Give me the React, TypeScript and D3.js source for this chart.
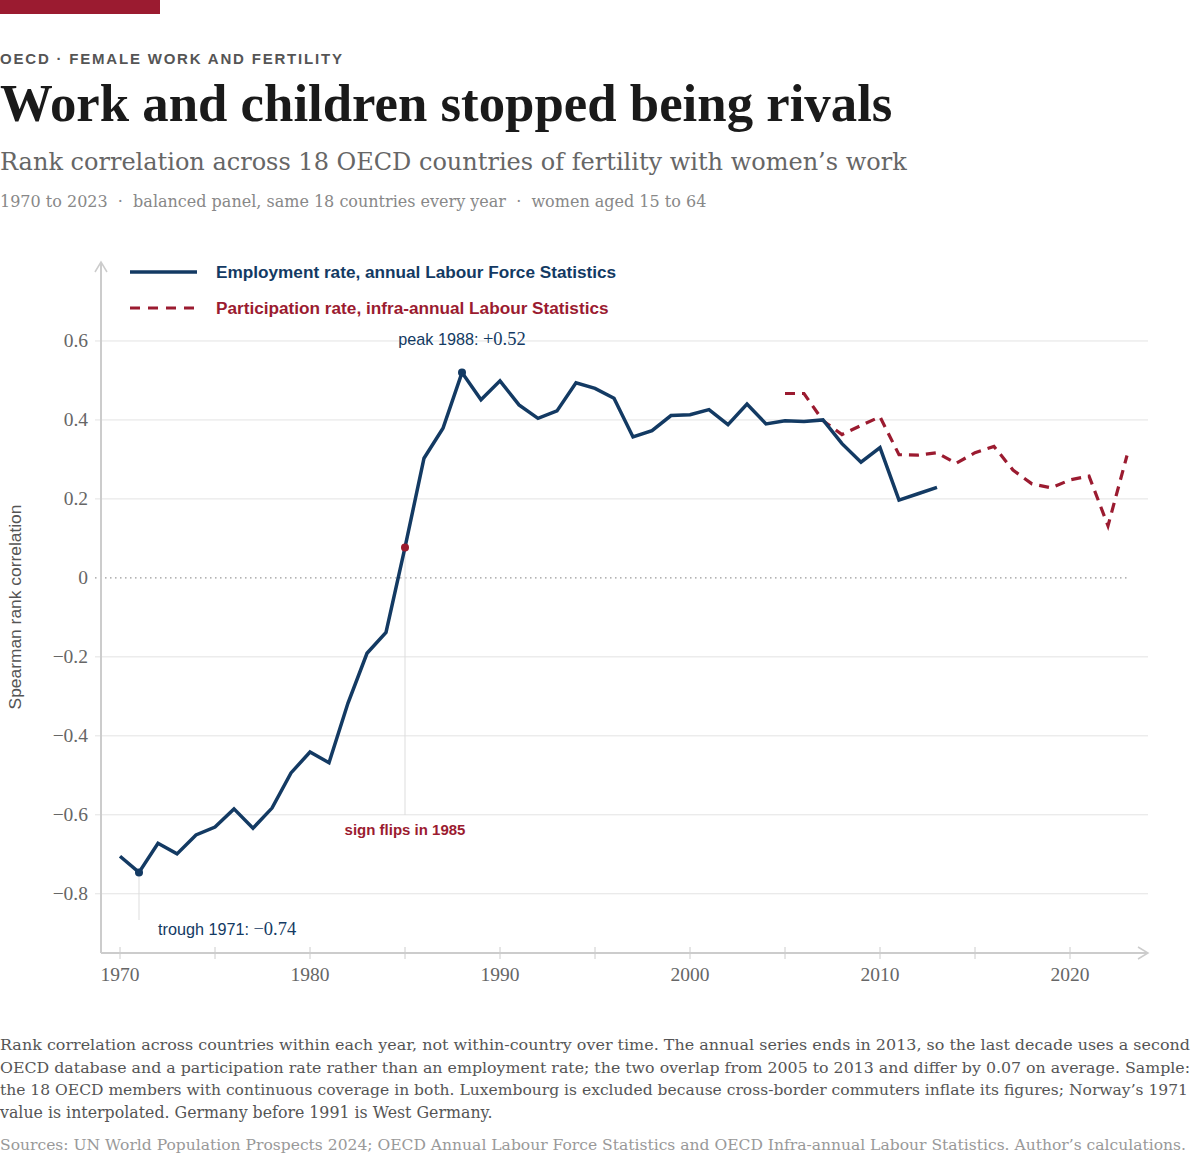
import React from "react";
import * as d3 from "d3";

const empYears = d3.range(1970, 2014);
const employment = [
  -0.705, -0.746, -0.672, -0.699, -0.651, -0.631, -0.585, -0.634, -0.583, -0.494,
  -0.441, -0.468, -0.317, -0.191, -0.138, 0.077, 0.303, 0.379, 0.52, 0.451,
  0.499, 0.438, 0.404, 0.423, 0.494, 0.48, 0.455, 0.357, 0.373, 0.411,
  0.413, 0.426, 0.388, 0.44, 0.39, 0.398, 0.396, 0.4, 0.34, 0.293,
  0.33, 0.197, 0.213, 0.229,
];
const partYears = d3.range(2005, 2024);
const participation = [
  0.467, 0.467, 0.398, 0.363, 0.386, 0.408, 0.312, 0.311, 0.317, 0.29,
  0.317, 0.333, 0.273, 0.238, 0.228, 0.248, 0.258, 0.132, 0.31,
];
const yTicks = [0.6, 0.4, 0.2, 0, -0.2, -0.4, -0.6, -0.8];
const xMajor = [1970, 1980, 1990, 2000, 2010, 2020];
const xMinor = [1975, 1985, 1995, 2005, 2015];

const footerLines = [
  "Rank correlation across countries within each year, not within-country over time. The annual series ends in 2013, so the last decade uses a second",
  "OECD database and a participation rate rather than an employment rate; the two overlap from 2005 to 2013 and differ by 0.07 on average. Sample:",
  "the 18 OECD members with continuous coverage in both. Luxembourg is excluded because cross-border commuters inflate its figures; Norway\u2019s 1971",
  "value is interpolated. Germany before 1991 is West Germany.",
];
const footerWidths = [1190, 1190, 1188, 0];
const sourceText =
  "Sources: UN World Population Prospects 2024; OECD Annual Labour Force Statistics and OECD Infra-annual Labour Statistics. Author\u2019s calculations.";

const NAVY = "#133a63";
const RED = "#9b1b30";
const SERIF = "'Liberation Serif', 'DejaVu Serif', serif";
const WSERIF = "'DejaVu Serif', 'Liberation Serif', serif";
const SANS = "'Liberation Sans', Arial, sans-serif";

const fmt = (v: number) => (v === 0 ? "0" : (v < 0 ? "\u2212" : "") + Math.abs(v).toFixed(1));

export default function App() {
  const W = 1200;
  const H = 1157;
  const x = d3.scaleLinear().domain([1969, 2024]).range([101, 1146]);
  const y = d3.scaleLinear().domain([-0.95, 0.8]).range([953, 262]);

  const mk = d3
    .line<[number, number]>()
    .x((d) => x(d[0]))
    .y((d) => y(d[1]));
  const empPath = mk(empYears.map((yr, i) => [yr, employment[i]] as [number, number]));
  const partPath = mk(partYears.map((yr, i) => [yr, participation[i]] as [number, number]));

  const iTrough = empYears.indexOf(1971);
  const iPeak = empYears.indexOf(1988);
  const iFlip = empYears.indexOf(1985);

  return (
    <svg
      width={W}
      height={H}
      style={{ position: "absolute", left: 0, top: 0, background: "#fff" }}
    >
      <rect x={0} y={0} width={W} height={H} fill="#fff" />
      <rect x={0} y={0} width={160} height={14} fill={RED} />
      <text x={0} y={64} fontFamily={SANS} fontWeight={700} fontSize={15} letterSpacing={1.8} fill="#555">
        OECD · FEMALE WORK AND FERTILITY
      </text>
      <text x={0} y={121} fontFamily={SERIF} fontWeight={700} fontSize={52.8} fill="#1a1a1a">
        Work and children stopped being rivals
      </text>
      <text x={0} y={170} fontFamily={WSERIF} fontSize={24} fill="#666">
        Rank correlation across 18 OECD countries of fertility with women’s work
      </text>
      <text x={0} y={207} fontFamily={WSERIF} fontSize={16} fill="#888">
        1970 to 2023{"\u00a0\u00a0·\u00a0\u00a0"}balanced panel, same 18 countries every year{"\u00a0\u00a0·\u00a0\u00a0"}women aged 15 to 64
      </text>

      {/* grid */}
      {yTicks
        .filter((t) => t !== 0)
        .map((t) => (
          <line key={t} x1={95} x2={1148} y1={y(t)} y2={y(t)} stroke="#e3e3e3" strokeWidth={1} />
        ))}
      <line x1={95} x2={x(2023)} y1={y(0)} y2={y(0)} stroke="#999" strokeWidth={1.2} strokeDasharray="1.5,3.5" />
      {yTicks.map((t) => (
        <text key={t} x={88} y={y(t) + 6.5} textAnchor="end" fontFamily={SERIF} fontSize={19.5} fill="#666">
          {fmt(t)}
        </text>
      ))}

      {/* axes */}
      <line x1={101} x2={101} y1={953} y2={263} stroke="#ccc" strokeWidth={2} />
      <path d="M95,272 L101,262 L107,272" fill="none" stroke="#ccc" strokeWidth={1.5} />
      <line x1={101} x2={1147} y1={953} y2={953} stroke="#ccc" strokeWidth={2} />
      <path d="M1138,947 L1148,953 L1138,959" fill="none" stroke="#ccc" strokeWidth={1.5} />
      {[...xMajor, ...xMinor].map((t) => (
        <line key={t} x1={x(t)} x2={x(t)} y1={947} y2={959} stroke="#ccc" strokeWidth={1} />
      ))}
      {xMajor.map((t) => (
        <text key={t} x={x(t)} y={981} textAnchor="middle" fontFamily={SERIF} fontSize={19.5} fill="#666">
          {t}
        </text>
      ))}
      <text
        transform={`translate(21,${607}) rotate(-90)`}
        textAnchor="middle"
        fontFamily={SANS}
        fontSize={17.4}
        fill="#555"
      >
        Spearman rank correlation
      </text>

      {/* guide lines */}
      <line x1={x(1985)} x2={x(1985)} y1={y(employment[iFlip])} y2={815} stroke="#ddd" strokeWidth={1} />
      <line x1={x(1971)} x2={x(1971)} y1={y(employment[iTrough])} y2={920} stroke="#ddd" strokeWidth={1} />

      {/* series */}
      <path d={partPath || ""} fill="none" stroke={RED} strokeWidth={3.2} strokeDasharray="10,7" />
      <path d={empPath || ""} fill="none" stroke={NAVY} strokeWidth={3.5} strokeLinejoin="miter" />
      <circle cx={x(1971)} cy={y(employment[iTrough])} r={4} fill={NAVY} />
      <circle cx={x(1988)} cy={y(employment[iPeak])} r={4} fill={NAVY} />
      <circle cx={x(1985)} cy={y(employment[iFlip])} r={4} fill={RED} />

      {/* annotations */}
      <text x={x(1988)} y={345} textAnchor="middle" fontSize={16.2} fill={NAVY}>
        <tspan fontFamily={SANS}>peak 1988: </tspan>
        <tspan fontFamily={SERIF} fontSize={18.5}>+0.52</tspan>
      </text>
      <text x={158} y={935} fontSize={16.2} fill={NAVY}>
        <tspan fontFamily={SANS}>trough 1971: </tspan>
        <tspan fontFamily={SERIF} fontSize={18.5}>{"\u22120.74"}</tspan>
      </text>
      <text x={x(1985)} y={835} textAnchor="middle" fontFamily={SANS} fontWeight={700} fontSize={15} fill={RED}>
        sign flips in 1985
      </text>

      {/* legend */}
      <line x1={130} x2={197} y1={272} y2={272} stroke={NAVY} strokeWidth={3.5} />
      <text x={216} y={278} fontFamily={SANS} fontWeight={700} fontSize={17.2} fill={NAVY}>
        Employment rate, annual Labour Force Statistics
      </text>
      <line x1={130} x2={197} y1={308} y2={308} stroke={RED} strokeWidth={3} strokeDasharray="10,8" />
      <text x={216} y={314} fontFamily={SANS} fontWeight={700} fontSize={17.2} fill={RED}>
        Participation rate, infra-annual Labour Statistics
      </text>

      {/* footer */}
      {footerLines.map((l, i) => (
        <text
          key={i}
          x={0}
          y={1050 + i * 22.5}
          fontFamily={WSERIF}
          fontSize={footerWidths[i] ? 15.3 : 15.8}
          fill="#555"
          {...(footerWidths[i] ? { textLength: footerWidths[i], lengthAdjust: "spacingAndGlyphs" } : {})}
        >
          {l}
        </text>
      ))}
      <text
        x={0}
        y={1150}
        fontFamily={WSERIF}
        fontSize={15.3}
        fill="#999"
        textLength={1186}
        lengthAdjust="spacingAndGlyphs"
      >
        {sourceText}
      </text>
    </svg>
  );
}
